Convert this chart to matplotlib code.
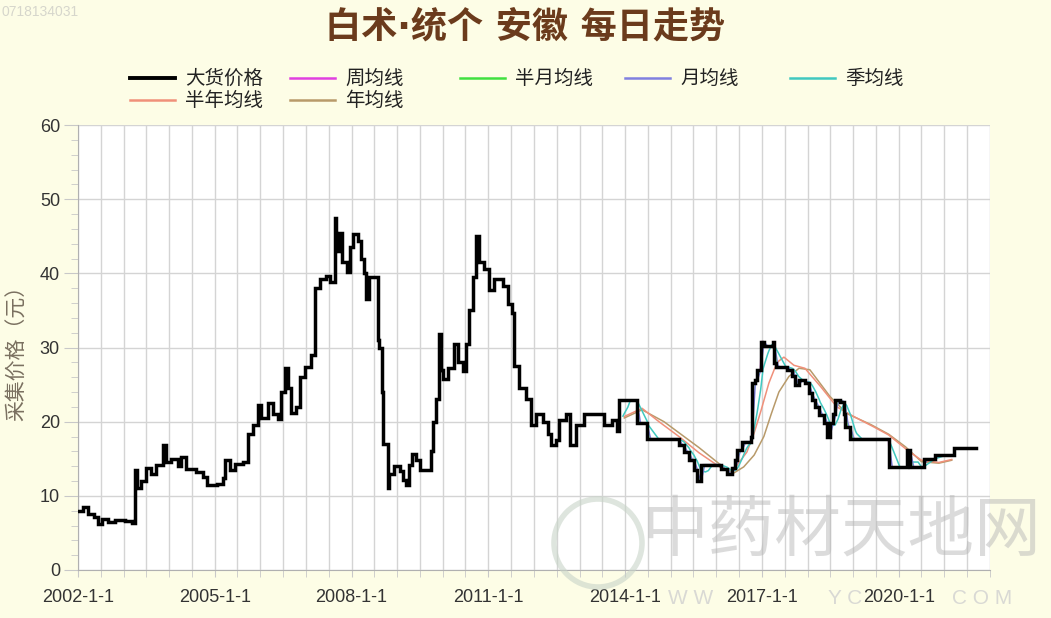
import numpy as np
import pandas as pd
import matplotlib
matplotlib.use("Agg")
import matplotlib.pyplot as plt
from matplotlib.lines import Line2D
from matplotlib.patches import Ellipse

plt.rcParams['font.family'] = ['Noto Sans CJK SC', 'DejaVu Sans']

# ---------------- data ----------------
# price trace: decimal year, value (stepwise)
price_years = [
    2002.01, 2002.12, 2002.23, 2002.34, 2002.44, 2002.52, 2002.66, 2002.81, 2003.03, 2003.18,
    2003.25, 2003.30, 2003.39, 2003.50, 2003.61, 2003.72, 2003.87, 2003.93, 2004.05, 2004.20,
    2004.27, 2004.38, 2004.60, 2004.74, 2004.82, 2005.04, 2005.18, 2005.23, 2005.33, 2005.44,
    2005.62, 2005.73, 2005.84, 2005.95, 2006.02, 2006.17, 2006.28, 2006.39, 2006.46, 2006.53,
    2006.60, 2006.68, 2006.79, 2006.86, 2006.97, 2007.12, 2007.19, 2007.30, 2007.45, 2007.53,
    2007.63, 2007.66, 2007.72, 2007.80, 2007.90, 2007.97, 2008.03, 2008.14, 2008.21, 2008.28,
    2008.32, 2008.38, 2008.58, 2008.61, 2008.66, 2008.70, 2008.79, 2008.83, 2008.94, 2009.05,
    2009.12, 2009.20, 2009.25, 2009.33, 2009.42, 2009.49, 2009.74, 2009.78, 2009.85, 2009.91,
    2009.95, 2010.00, 2010.11, 2010.25, 2010.33, 2010.44, 2010.50, 2010.58, 2010.66, 2010.73,
    2010.79, 2010.91, 2011.02, 2011.13, 2011.31, 2011.42, 2011.52, 2011.57, 2011.68, 2011.82,
    2011.93, 2012.04, 2012.19, 2012.30, 2012.37, 2012.48, 2012.55, 2012.70, 2012.79, 2012.92,
    2013.10, 2013.50, 2013.54, 2013.72, 2013.81, 2013.87, 2014.26, 2014.48, 2015.18, 2015.29,
    2015.40, 2015.51, 2015.58, 2015.67, 2016.10, 2016.24, 2016.34, 2016.41, 2016.46, 2016.57,
    2016.76, 2016.78, 2016.85, 2016.90, 2016.97, 2017.04, 2017.25, 2017.27, 2017.30, 2017.55,
    2017.66, 2017.73, 2017.81, 2017.95, 2018.03, 2018.10, 2018.17, 2018.25, 2018.36, 2018.42,
    2018.49, 2018.56, 2018.61, 2018.72, 2018.80, 2018.83, 2018.94, 2019.78, 2020.18, 2020.25,
    2020.55, 2020.80, 2021.20, 2021.69,
]
price_values = [
    8.0, 8.5, 7.6, 7.2, 6.2, 6.9, 6.5, 6.8, 6.6, 6.3,
    13.5, 11.0, 12.0, 13.8, 13.0, 14.2, 16.8, 14.6, 15.0, 14.0,
    15.2, 13.6, 13.2, 12.6, 11.4, 11.6, 12.4, 14.8, 13.5, 14.3,
    14.6, 18.4, 19.5, 22.3, 20.5, 22.5, 21.0, 20.3, 24.0, 27.2,
    24.5, 21.2, 22.0, 26.0, 27.4, 29.0, 38.0, 39.3, 39.6, 38.8,
    47.5, 43.0, 45.5, 41.5, 40.2, 43.5, 45.3, 44.3, 42.0, 40.0,
    36.5, 39.5, 31.0, 30.0, 24.0, 17.0, 11.0, 13.0, 14.0, 13.4,
    12.2, 11.4, 14.2, 15.7, 14.8, 13.5, 16.0, 20.0, 23.0, 31.8,
    27.0, 25.8, 27.2, 30.5, 28.0, 26.8, 30.5, 35.0, 39.5, 45.0,
    41.5, 40.6, 37.8, 39.2, 38.3, 35.8, 34.6, 27.5, 24.5, 23.0,
    19.6, 21.0, 20.0, 18.4, 16.8, 17.5, 20.2, 21.0, 16.8, 19.5,
    21.1, 21.1, 19.6, 20.2, 18.8, 22.9, 19.8, 17.7, 16.8, 15.9,
    14.8, 13.5, 12.0, 14.2, 13.6, 13.0, 13.8, 14.8, 16.2, 17.3,
    18.0, 25.2, 25.6, 27.0, 30.8, 30.2, 30.8, 27.9, 27.4, 27.0,
    26.1, 24.9, 25.6, 25.2, 23.8, 22.9, 22.0, 20.9, 19.8, 18.0,
    19.8, 21.1, 22.9, 22.7, 21.1, 19.3, 17.7, 13.9, 16.2, 13.9,
    15.0, 15.5, 16.4, 16.4,
]

# half-year moving average (read)
halfyear_years = [2013.98, 2014.37, 2014.74, 2015.20, 2015.62, 2016.17, 2016.39, 2016.67,
                  2016.83, 2016.98, 2017.15, 2017.33, 2017.48, 2017.70, 2017.94, 2018.29,
                  2018.64, 2019.01, 2019.45, 2019.78, 2020.22, 2020.50, 2020.88, 2021.16]
halfyear_values = [20.7, 21.8, 20.0, 17.9, 15.8, 13.5, 13.6, 15.9,
                   18.5, 21.5, 25.2, 28.0, 28.7, 27.6, 27.2, 24.7,
                   22.0, 20.7, 19.3, 18.2, 16.0, 14.8, 14.5, 14.9]

# one-year moving average (read)
year_years = [2013.98, 2014.37, 2014.85, 2015.62, 2016.21, 2016.39, 2016.60, 2016.83,
              2017.04, 2017.20, 2017.37, 2017.59, 2017.81, 2018.05, 2018.49, 2018.86,
              2019.39, 2019.78, 2020.15, 2020.50, 2020.88, 2021.16]
year_values = [20.5, 21.6, 20.0, 16.5, 13.6, 13.1, 13.9, 15.5,
               18.0, 21.0, 24.0, 26.1, 27.2, 27.0, 23.4, 21.1,
               19.6, 18.3, 16.6, 14.6, 14.4, 14.8]

ma_start_year = 2013.95
ma_end_year = 2021.16

legend_labels = ['大货价格', '周均线', '半月均线', '月均线', '季均线', '半年均线', '年均线']
tick_dates = ['2002-01-01', '2005-01-01', '2008-01-01', '2011-01-01',
              '2014-01-01', '2017-01-01', '2020-01-01']
tick_labels = ['2002-1-1', '2005-1-1', '2008-1-1', '2011-1-1',
               '2014-1-1', '2017-1-1', '2020-1-1']

title_text = '白术·统个 安徽 每日走势'
ylabel_text = '采集价格（元）'


def to_dates(years):
    y = np.asarray(years, dtype=float)
    base = pd.to_datetime([f"{int(v)}-01-01" for v in y])
    return base + pd.to_timedelta((y - np.floor(y)) * 365.25, unit='D')


price_dates = to_dates(price_years)
price = pd.Series(price_values, index=price_dates)
# daily step series (hold each value until the next change)
daily = price.resample('D').last().ffill()

ma_windows = {'周均线': '7D', '半月均线': '15D', '月均线': '30D', '季均线': '91D'}
t0 = to_dates([ma_start_year])[0]
t1 = to_dates([ma_end_year])[0]
short_ma = {k: daily.rolling(w).mean()[t0:t1] for k, w in ma_windows.items()}

colors = {
    '大货价格': '#000000',
    '周均线': '#e040e0',
    '半月均线': '#40e040',
    '月均线': '#8080e0',
    '季均线': '#40c8c0',
    '半年均线': '#f0907a',
    '年均线': '#b89a6a',
}

# ---------------- figure ----------------
W, H = 1051, 618
fig = plt.figure(figsize=(W / 100, H / 100), dpi=100, facecolor='#fdfde6')
ax = fig.add_axes([78 / W, 1 - 570 / H, (990 - 78) / W, (570 - 125) / H])
ax.set_facecolor('white')

ax.plot(to_dates(year_years), year_values, color=colors['年均线'], lw=1.1, zorder=3)
ax.plot(to_dates(halfyear_years), halfyear_values, color=colors['半年均线'], lw=1.1, zorder=3)
for name in ['季均线', '月均线', '半月均线', '周均线']:
    s = short_ma[name]
    ax.plot(s.index, s.values, color=colors[name], lw=1.1, zorder=4)

ax.plot(price_dates, price_values, drawstyle='steps-post', color='black', lw=2.5,
        zorder=5, solid_joinstyle='miter')

# axes styling
ax.set_ylim(0, 60)
ax.set_xlim(pd.Timestamp('2002-01-01'), pd.Timestamp('2022-01-01'))
ax.set_yticks(np.arange(0, 61, 10))
ax.set_yticks(np.arange(0, 61, 2), minor=True)
ax.set_xticks(pd.to_datetime(tick_dates))
ax.set_xticklabels(tick_labels)
minor_x = pd.date_range('2002-01-01', '2022-01-01', freq='6MS')
ax.set_xticks(minor_x, minor=True)

ax.grid(True, which='major', axis='y', color='#d4d4d4', lw=1.0)
ax.grid(True, which='both', axis='x', color='#d4d4d4', lw=1.0)
ax.set_axisbelow(True)

for side in ['top', 'right']:
    ax.spines[side].set_visible(False)
ax.spines['left'].set_color('#b0b0b0')
ax.spines['bottom'].set_color('#b0b0b0')

ax.tick_params(axis='y', which='major', length=10, color='#c8c8c8', pad=3,
               labelsize=13, labelcolor='#333333')
ax.tick_params(axis='y', which='minor', length=5, color='#c8c8c8')
ax.tick_params(axis='x', which='both', length=5, color='#c8c8c8')
ax.tick_params(axis='x', which='major', pad=9, labelsize=13, labelcolor='#333333')
for lab in ax.get_xticklabels() + ax.get_yticklabels():
    lab.set_family(['Liberation Sans', 'DejaVu Sans'])

ax.set_ylabel(ylabel_text, fontsize=15, color='#7a7060')
ax.yaxis.set_label_coords(-50 / (990 - 78), 0.5)

# title
fig.text(0.5, 1 - 27 / H, title_text, ha='center', va='center', fontsize=26,
         fontweight='bold', color='#6b3b1c', family=['DejaVu Sans', 'Noto Sans CJK SC'])

# legend (fixed-width columns as in the reference)
col_x = [130, 290, 460, 625, 790]
row_y = [78, 100]
positions = [(0, 0), (1, 0), (2, 0), (3, 0), (4, 0), (0, 1), (1, 1)]
for name, (c, r) in zip(legend_labels, positions):
    x0 = col_x[c]
    yy = 1 - row_y[r] / H
    lw = 2.8 if name == '大货价格' else 1.8
    fig.add_artist(Line2D([x0 / W, (x0 + 45) / W], [yy, yy], color=colors[name], lw=lw,
                          transform=fig.transFigure))
    fig.text((x0 + 55) / W, yy, name, fontsize=14, color='#222222', ha='left', va='center')

# watermarks
fig.text(2 / W, 1 - 12 / H, '0718134031', fontsize=10, color='#d6d6cc',
         ha='left', va='center', family=['Liberation Sans', 'DejaVu Sans'])
fig.text(642 / W, 1 - 532 / H, '中药材天地网', fontsize=48, color='#b8b8b8',
         alpha=0.5, ha='left', va='center', zorder=10)
for txt, xp in [('W W', 668), ('Y C', 828), ('C O M', 952)]:
    fig.text(xp / W, 1 - 598 / H, txt, fontsize=15, color='#d0d0d0', alpha=0.8,
             ha='left', va='center', zorder=10, family=['Liberation Sans', 'DejaVu Sans'])
fig.add_artist(Ellipse((598 / W, 1 - 543 / H), 88 / W, 88 / H, fill=False,
                       ec='#c8d4c8', lw=4, alpha=0.6, transform=fig.transFigure, zorder=10))

fig.savefig('out.png', dpi=100, facecolor=fig.get_facecolor())
